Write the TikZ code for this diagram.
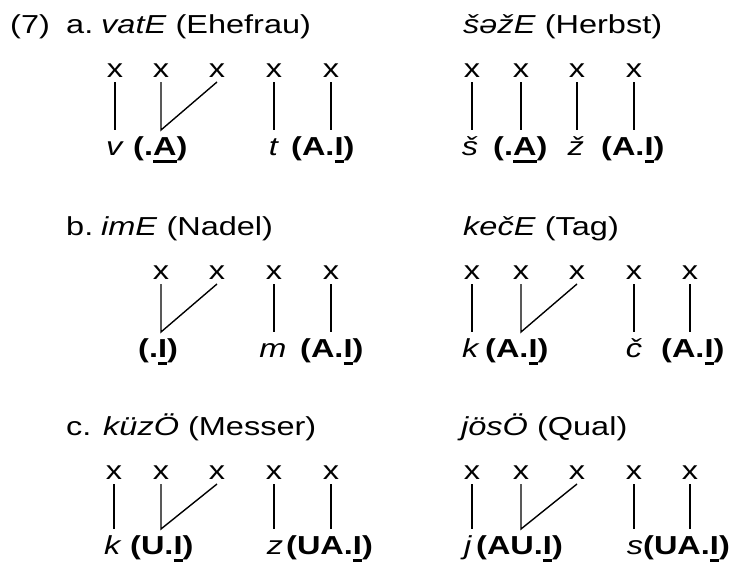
\documentclass[tikz,border=0pt]{standalone}
\usepackage{fontspec}
\setmainfont{Liberation Sans}[FakeStretch=1.25]
\usetikzlibrary{calc}
% underlined segment (thick rule under the head)
\newcommand{\uln}[1]{\setbox0\hbox{#1}\rlap{\rule[-7.5pt]{\wd0}{3pt}}\box0}

\begin{document}
\begin{tikzpicture}[
    x=1pt, y=-1pt,
    every node/.style={inner sep=0pt, font=\fontsize{26}{30}\selectfont},
    ttl/.style={anchor=base west},
    xm/.style={anchor=base, outer sep=5pt},
    seg/.style={anchor=base, text height=18.6pt, outer ysep=6.4pt},
    segw/.style={seg, anchor=base west},
    assoc/.style={line width=1.4pt},
]
\useasboundingbox (0,0) rectangle (732,562);

% --- (7a) ---
\node[ttl] (n7) at (10,33) {(7)};
\node[ttl] (la) at (66,33) {a.};
\node[ttl] (wa1) at (101,33) {\textit{vatE} (Ehefrau)};
\node[ttl] (wa2) at (463,33) {\textit{šəžE} (Herbst)};

\foreach \c/\n in {115/1,161/2,217/3,274/4,331/5}
    \node[xm] (ax\n) at (\c,77) {x};
\foreach \c/\n in {472/1,521/2,577/3,634/4}
    \node[xm] (ay\n) at (\c,77) {x};

\node[seg] (av) at (115,155) {\textit{v}};
\node[segw] (aA) at (133,155) {\textbf{(.\uln{A})}};
\node[seg] (at) at (274,155) {\textit{t}};
\node[segw] (aAI) at (291,155) {\textbf{(A.\uln{I})}};
\node[seg] (ash) at (470,155) {\textit{š}};
\node[segw] (aA2) at (493,155) {\textbf{(.\uln{A})}};
\node[seg] (azh) at (576,155) {\textit{ž}};
\node[segw] (aAI2) at (601,155) {\textbf{(A.\uln{I})}};

\draw[assoc] (ax1.south) -- (ax1 |- av.north);
\draw[assoc] (ax2.south) -- (ax2 |- aA.north) -- (ax3.south);
\draw[assoc] (ax4.south) -- (ax4 |- at.north);
\draw[assoc] (ax5.south) -- (ax5 |- aAI.north);
\draw[assoc] (ay1.south) -- (ay1 |- ash.north);
\draw[assoc] (ay2.south) -- (ay2 |- aA2.north);
\draw[assoc] (ay3.south) -- (ay3 |- azh.north);
\draw[assoc] (ay4.south) -- (ay4 |- aAI2.north);

% --- (7b) ---
\node[ttl] (lb) at (66,235) {b.};
\node[ttl] (wb1) at (101,235) {\textit{imE} (Nadel)};
\node[ttl] (wb2) at (463,235) {\textit{kečE} (Tag)};

\foreach \c/\n in {161/2,217/3,274/4,331/5}
    \node[xm] (bx\n) at (\c,279) {x};
\foreach \c/\n in {472/1,521/2,577/3,634/4,690/5}
    \node[xm] (by\n) at (\c,279) {x};

\node[segw] (bI) at (138,357) {\textbf{(.\uln{I})}};
\node[seg] (bm) at (273,357) {\textit{m}};
\node[segw] (bAI) at (300,357) {\textbf{(A.\uln{I})}};
\node[seg] (bk) at (471,357) {\textit{k}};
\node[segw] (bAI2) at (485,357) {\textbf{(A.\uln{I})}};
\node[seg] (bch) at (634,357) {\textit{č}};
\node[segw] (bAI3) at (661,357) {\textbf{(A.\uln{I})}};

\draw[assoc] (bx2.south) -- (bx2 |- bI.north) -- (bx3.south);
\draw[assoc] (bx4.south) -- (bx4 |- bm.north);
\draw[assoc] (bx5.south) -- (bx5 |- bAI.north);
\draw[assoc] (by1.south) -- (by1 |- bk.north);
\draw[assoc] (by2.south) -- (by2 |- bAI2.north) -- (by3.south);
\draw[assoc] (by4.south) -- (by4 |- bch.north);
\draw[assoc] (by5.south) -- (by5 |- bAI3.north);

% --- (7c) ---
\node[ttl] (lc) at (66,435) {c.};
\node[ttl] (wc1) at (103,435) {\textit{küzÖ} (Messer)};
\node[ttl] (wc2) at (461,435) {\textit{jösÖ} (Qual)};

\foreach \c/\n in {114/1,161/2,217/3,274/4,331/5}
    \node[xm] (cx\n) at (\c,479) {x};
\foreach \c/\n in {472/1,521/2,577/3,634/4,690/5}
    \node[xm] (cy\n) at (\c,479) {x};

\node[seg] (ck) at (113,554) {\textit{k}};
\node[segw] (cUI) at (130,554) {\textbf{(U.\uln{I})}};
\node[seg] (cz) at (275,554) {\textit{z}};
\node[segw] (cUAI) at (286,554) {\textbf{(UA.\uln{I})}};
\node[seg] (cj) at (468,554) {\textit{j}};
\node[segw] (cAUI) at (476,554) {\textbf{(AU.\uln{I})}};
\node[seg] (cs) at (635,554) {\textit{s}};
\node[segw] (cUAI2) at (643,554) {\textbf{(UA.\uln{I})}};

\draw[assoc] (cx1.south) -- (cx1 |- ck.north);
\draw[assoc] (cx2.south) -- (cx2 |- cUI.north) -- (cx3.south);
\draw[assoc] (cx4.south) -- (cx4 |- cz.north);
\draw[assoc] (cx5.south) -- (cx5 |- cUAI.north);
\draw[assoc] (cy1.south) -- (cy1 |- cj.north);
\draw[assoc] (cy2.south) -- (cy2 |- cAUI.north) -- (cy3.south);
\draw[assoc] (cy4.south) -- (cy4 |- cs.north);
\draw[assoc] (cy5.south) -- (cy5 |- cUAI2.north);

\end{tikzpicture}
\end{document}
